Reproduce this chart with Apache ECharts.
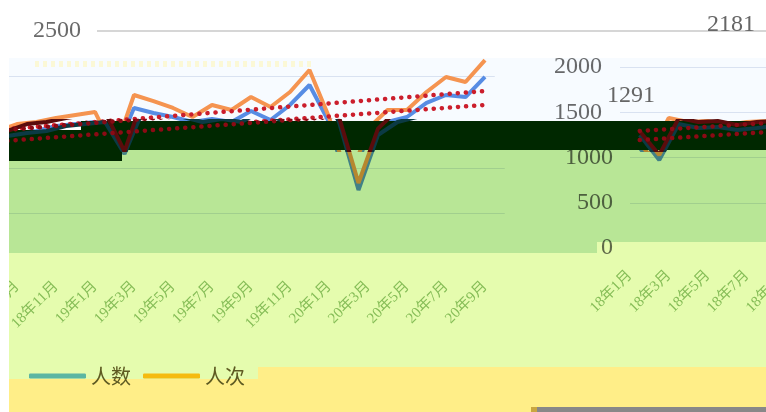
<!DOCTYPE html>
<html>
<head>
<meta charset="utf-8">
<script src="https://cdn.jsdelivr.net/npm/echarts@6/dist/echarts.min.js"></script>
<style>
html, body { margin: 0; background: #fff; }
#chart { width: 766px; height: 412px; }
</style>
</head>
<body>
<div id="chart"></div>
<script>
// monthly data, 18年1月 .. 20年9月
const months = [
  '18年1月', '18年2月', '18年3月', '18年4月', '18年5月', '18年6月', '18年7月', '18年8月',
  '18年9月', '18年10月', '18年11月', '18年12月',
  '19年1月', '19年2月', '19年3月', '19年4月', '19年5月', '19年6月',
  '19年7月', '19年8月', '19年9月', '19年10月', '19年11月', '19年12月',
  '20年1月', '20年2月', '20年3月', '20年4月', '20年5月', '20年6月', '20年7月', '20年8月', '20年9月'
]
const renci = [
  1291, 1028, 1436, 1392, 1403, 1359, 1392, 1404,
  1480, 1502, 1546, 1579,
  1612, 1180, 1798, 1732, 1656, 1557,
  1689, 1634, 1776, 1667, 1831, 2072,
  1557, 833, 1430, 1634, 1634, 1831, 1996, 1941, 2181
]
const renshu = [
  1249, 972, 1370, 1326, 1337, 1304, 1326, 1349,
  1382, 1404, 1458, 1480,
  1502, 1151, 1656, 1601, 1557, 1502,
  1535, 1502, 1623, 1524, 1689, 1908,
  1502, 757, 1360, 1502, 1557, 1711, 1798, 1776, 1996
]
// trend line end points (first, last) for each panel
const leftTrendCi = [1416, 1842]
const leftTrendShu = [1296, 1689]
const rightTrendCi = [1293, 1400]
const rightTrendShu = [1193, 1300]

const leftCats = months.slice(7)
const rightCats = months.slice(0, 9)

const serif = 'Liberation Serif, Noto Sans CJK SC'
const T = 'rgba(0,0,0,0)'
const normal = { shu: '#5a8fe4', ci: '#fd9650', dot: '#d21e2c' }
const dark = { shu: '#0b3a44', ci: '#5a0c0c', dot: '#8b0a14' }

const oddMonth = (i, v) => parseInt(v.split('年')[1]) % 2 === 1

function trend(ends, n) {
  const d = new Array(n).fill(null)
  d[0] = ends[0]
  d[n - 1] = ends[1]
  return d
}

function lineSet(axis, cats, from, tCi, tShu, pal, z) {
  const n = cats.length
  const base = { type: 'line', xAxisIndex: axis, yAxisIndex: axis, symbol: 'none', clip: true, silent: true, z }
  return [
    { ...base, name: '人数', data: renshu.slice(from, from + n), lineStyle: { width: 4, color: pal.shu }, itemStyle: { color: pal.shu } },
    { ...base, name: '人次', data: renci.slice(from, from + n), lineStyle: { width: 4, color: pal.ci }, itemStyle: { color: pal.ci } },
    { ...base, name: '人次趋势', data: trend(tCi, n), connectNulls: true, lineStyle: { width: 4.5, color: pal.dot, type: [0.1, 8], cap: 'round' } },
    { ...base, name: '人数趋势', data: trend(tShu, n), connectNulls: true, lineStyle: { width: 4.5, color: pal.dot, type: [0.1, 8], cap: 'round' } },
  ]
}

// left panel scale: 0 at y=259, 2500 at y=31
const kL = 228 / 2500
const lCut = (259 - 150) / kL
const lDark = (259 - 121) / kL
// right panel scale: 0 at y=248, 2000 at y=67
const kR = 181 / 2000
const rCut = (248 - 150) / kR
const rDark = (248 - 121) / kR

const grids = [
  { left: 97, top: 31, width: 669, height: 228 },        // 0 top rule
  { left: -12.25, top: 31, width: 507, height: 228 },    // 1 left axes
  { left: -12.25, top: 31, width: 507, height: 119 },    // 2 left lines, upper
  { left: -2.25, top: 150, width: 507, height: 109 },    // 3 left lines, lower
  { left: -2.25, top: 121, width: 507, height: 29 },     // 4 left lines, dark band
  { left: 620, top: 67, width: 175.5, height: 181 },     // 5 right axes
  { left: 620, top: 67, width: 175.5, height: 83 },      // 6 right lines, upper
  { left: 630, top: 150, width: 175.5, height: 98 },     // 7 right lines, lower
  { left: 630, top: 121, width: 175.5, height: 29 },     // 8 right lines, dark band
].map((g) => ({ ...g, containLabel: false, outerBoundsMode: 'none' }))

const hidden = { axisLine: { show: false }, axisTick: { show: false }, axisLabel: { show: false }, splitLine: { show: false } }
const xLabel = { show: true, rotate: 45, interval: oddMonth, fontFamily: serif, fontSize: 15, color: '#95c07f', margin: 25 }

const xAxis = [
  { gridIndex: 0, type: 'value', show: false },
  { gridIndex: 1, type: 'category', data: leftCats, boundaryGap: true, ...hidden, axisLabel: xLabel },
  { gridIndex: 2, type: 'category', data: leftCats, boundaryGap: true, ...hidden },
  { gridIndex: 3, type: 'category', data: leftCats, boundaryGap: true, ...hidden },
  { gridIndex: 4, type: 'category', data: leftCats, boundaryGap: true, ...hidden },
  { gridIndex: 5, type: 'category', data: rightCats, boundaryGap: true, ...hidden, axisLabel: xLabel },
  { gridIndex: 6, type: 'category', data: rightCats, boundaryGap: true, ...hidden },
  { gridIndex: 7, type: 'category', data: rightCats, boundaryGap: true, ...hidden },
  { gridIndex: 8, type: 'category', data: rightCats, boundaryGap: true, ...hidden },
]

const yLabel = { fontFamily: serif, fontSize: 24, color: '#6a6a6a' }
const split = (colors, width) => ({ show: true, lineStyle: { color: colors, width: width || 1 } })
const c = '#e0e6f1'

const yAxis = [
  { gridIndex: 0, type: 'value', min: 0, max: 2500, interval: 500, axisLine: { show: false }, axisTick: { show: false },
    axisLabel: { ...yLabel, margin: 16, formatter: (v) => (v === 2500 ? '2500' : '') },
    splitLine: split([T, T, T, T, T, '#d6d6d6'], 2) },
  { gridIndex: 1, type: 'value', min: 0, max: 2500, interval: 500, axisLine: { show: false }, axisTick: { show: false },
    axisLabel: { show: false }, splitLine: split([T, T, T, T, c, T]) },
  { gridIndex: 2, type: 'value', min: lCut, max: 2500, ...hidden },
  { gridIndex: 3, type: 'value', min: 0, max: lCut, interval: 500, axisLine: { show: false }, axisTick: { show: false },
    axisLabel: { show: false }, splitLine: split([T, c, c, T]) },
  { gridIndex: 4, type: 'value', min: lCut, max: lDark, ...hidden },
  { gridIndex: 5, type: 'value', min: 0, max: 2000, interval: 500, axisLine: { show: false }, axisTick: { show: false },
    axisLabel: { ...yLabel, margin: 18, formatter: (v) => (v >= 1500 ? String(v) : '') },
    splitLine: split([T, T, T, c, c]) },
  { gridIndex: 6, type: 'value', min: rCut, max: 2000, ...hidden },
  { gridIndex: 7, type: 'value', min: 0, max: rCut, interval: 500, axisLine: { show: false }, axisTick: { show: false },
    axisLabel: { ...yLabel, margin: 17, formatter: (v) => (v % 500 === 0 ? String(v) : '') },
    splitLine: split([T, c, c, T]) },
  { gridIndex: 8, type: 'value', min: rCut, max: rDark, ...hidden },
]

const series = [
  ...lineSet(2, leftCats, 7, leftTrendCi, leftTrendShu, normal, 2),
  ...lineSet(3, leftCats, 7, leftTrendCi, leftTrendShu, normal, 2),
  ...lineSet(4, leftCats, 7, leftTrendCi, leftTrendShu, dark, 30),
  ...lineSet(6, rightCats, 0, rightTrendCi, rightTrendShu, normal, 2),
  ...lineSet(7, rightCats, 0, rightTrendCi, rightTrendShu, normal, 2),
  ...lineSet(8, rightCats, 0, rightTrendCi, rightTrendShu, dark, 30),
]

function rect(x, y, w, h, fill, z, blend) {
  const style = { fill }
  if (blend) style.blend = blend
  return { type: 'rect', shape: { x, y, width: w, height: h }, style, z, silent: true }
}

const graphic = [
  // tinted bands laid over the plot
  rect(9, 58, 757, 63, '#f7fbff', 10, 'multiply'),
  rect(9, 150, 588, 103, '#b8e696', 10, 'multiply'),
  rect(597, 150, 169, 92, '#b8e696', 10, 'multiply'),
  rect(9, 253, 249, 126, '#e5fcae', 10, 'multiply'),
  rect(258, 253, 339, 114, '#e5fcae', 10, 'multiply'),
  rect(597, 242, 169, 125, '#e5fcae', 10, 'multiply'),
  rect(9, 379, 249, 33, '#ffee88', 10, 'multiply'),
  rect(258, 367, 508, 45, '#ffee88', 10, 'multiply'),
  // dark band
  rect(81, 121, 685, 29, '#002800', 20),
  rect(9, 130, 72, 20, '#002800', 20),
  rect(9, 150, 113, 11, '#002800', 20),
  { type: 'line', shape: { x1: 35, y1: 64, x2: 315, y2: 64 }, style: { stroke: '#fbf8d6', lineWidth: 6, lineDash: [4, 4] }, z: 15, silent: true },
  rect(536, 407, 230, 5, '#888888', 50),
  rect(531, 407, 6, 5, '#c9a640', 50),
  rect(0, 0, 9, 412, '#ffffff', 50),
  { type: 'text', x: 707, y: 25, z: 40, style: { text: String(Math.max(...renci)), font: '24px Liberation Serif', fill: '#666', verticalAlign: 'middle' } },
  { type: 'text', x: 607, y: 96, z: 40, style: { text: String(renci[0]), font: '24px Liberation Serif', fill: '#666', verticalAlign: 'middle' } },
]

const chart = echarts.init(document.getElementById('chart'))
chart.setOption({
  animation: false,
  backgroundColor: '#fff',
  grid: grids,
  xAxis,
  yAxis,
  series,
  graphic,
  legend: {
    left: 24,
    top: 361,
    z: 45,
    icon: 'roundRect',
    itemWidth: 57,
    itemHeight: 5,
    itemGap: 12,
    textStyle: { fontFamily: 'Noto Sans CJK SC', fontSize: 20, color: '#5e5a22' },
    data: [
      { name: '人数', itemStyle: { color: '#5bb6a2' } },
      { name: '人次', itemStyle: { color: '#f5bb10' } },
    ],
  },
})
window.addEventListener('resize', () => chart.resize())
</script>
</body>
</html>
